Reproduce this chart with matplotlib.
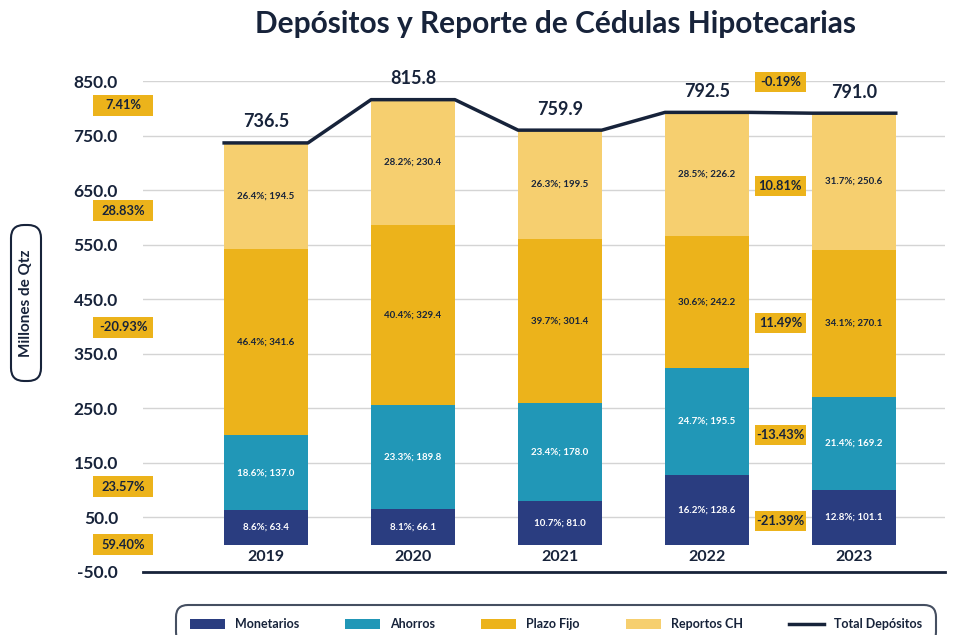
import numpy as np
import matplotlib
matplotlib.use('Agg')
from matplotlib import pyplot as plt
from matplotlib.patches import FancyBboxPatch, Rectangle

plt.rcParams['font.family'] = ['Lato', 'DejaVu Sans']

years = ['2019', '2020', '2021', '2022', '2023']
monetarios = [63.4, 66.1, 81.0, 128.6, 101.1]
ahorros = [137.0, 189.8, 178.0, 195.5, 169.2]
plazo_fijo = [341.6, 329.4, 301.4, 242.2, 270.1]
reportos = [194.5, 230.4, 199.5, 226.2, 250.6]
total = [736.5, 815.8, 759.9, 792.5, 791.0]

pct_mon = [8.6, 8.1, 10.7, 16.2, 12.8]
pct_aho = [18.6, 23.3, 23.4, 24.7, 21.4]
pct_pf = [46.4, 40.4, 39.7, 30.6, 34.1]
pct_rep = [26.4, 28.2, 26.3, 28.5, 31.7]

# variaciones 2019-2023 (izquierda) y 2022-2023 (derecha)
var_19_23 = ['7.41%', '28.83%', '-20.93%', '23.57%', '59.40%']
var_22_23 = ['-0.19%', '10.81%', '11.49%', '-13.43%', '-21.39%']
pos_19_23 = [806, 612, 399, 106, 0]
pos_22_23 = [848, 658, 406, 201, 43]

c_mon = '#2a3d80'
c_aho = '#2197b7'
c_pf = '#ecb31b'
c_rep = '#f6cf6f'
c_dark = '#17233a'

fig = plt.figure(figsize=(9.54, 6.35), dpi=100)
ax = fig.add_axes([143 / 954, 63 / 635, 802 / 954, 491 / 635])

x = np.arange(len(years))
w = 0.57
series = [(monetarios, pct_mon, c_mon, 'Monetarios', 'white'),
          (ahorros, pct_aho, c_aho, 'Ahorros', 'white'),
          (plazo_fijo, pct_pf, c_pf, 'Plazo Fijo', c_dark),
          (reportos, pct_rep, c_rep, 'Reportos CH', c_dark)]
bottom = np.zeros(len(years))
handles = []
for vals, pcts, col, name, tcol in series:
    b = ax.bar(x, vals, w, bottom=bottom, color=col, label=name, zorder=3)
    handles.append(b)
    for xi, v, p, b0 in zip(x, vals, pcts, bottom):
        ax.text(xi, b0 + v / 2, f'{p:.1f}%; {v:.1f}', ha='center', va='center',
                fontsize=7, color=tcol, fontweight='bold', zorder=4)
    bottom += np.array(vals)

# linea del total: plana sobre cada barra
lx = np.ravel(np.column_stack([x - w / 2, x + w / 2]))
ly = np.repeat(total, 2)
ln, = ax.plot(lx, ly, color=c_dark, lw=2.5, zorder=5, label='Total Depósitos')
handles.append(ln)
for xi, t in zip(x, total):
    ax.annotate(f'{t:.1f}', (xi, t), xytext=(0, 9), textcoords='offset points',
                ha='center', va='bottom', fontsize=13, color=c_dark,
                fontweight='bold', annotation_clip=False)

for xi, y in zip(x, years):
    ax.text(xi, -22, y, ha='center', va='center', fontsize=11.5,
            color=c_dark, fontweight='bold')

ax.set_xlim(-0.837, 4.62)
ax.set_ylim(-50, 850)

# cajas amarillas de ancho fijo (medidas en pixeles)
px_x = (4.62 + 0.837) / 802
px_y = 900 / 491


def var_box(xc, yc, txt, wpx, hpx):
    ww, hh = wpx * px_x, hpx * px_y
    ax.add_patch(Rectangle((xc - ww / 2, yc - hh / 2), ww, hh, fc=c_pf, ec='none',
                           zorder=6, clip_on=False))
    ax.text(xc, yc, txt, ha='center', va='center', fontsize=9.3, fontweight='bold',
            color=c_dark, zorder=7, clip_on=False)


for txt, yv in zip(var_19_23, pos_19_23):
    var_box(-0.97, yv, txt, 60, 21)
for txt, yv in zip(var_22_23, pos_22_23):
    var_box(3.5, yv, txt, 51, 20)

ax.set_yticks(np.arange(-50, 851, 100))
ax.set_yticklabels([f'{v:.1f}' for v in np.arange(-50, 851, 100)])
ax.tick_params(axis='y', length=0, pad=18, labelsize=12.5, labelcolor=c_dark)
for lab in ax.get_yticklabels():
    lab.set_fontweight('bold')
ax.set_xticks([])
ax.grid(axis='y', color='#d4d4d4', lw=1, zorder=0)
for s in ['top', 'right', 'left']:
    ax.spines[s].set_visible(False)
ax.spines['bottom'].set_color(c_dark)
ax.spines['bottom'].set_linewidth(2)

fig.text(0.582, 0.962, 'Depósitos y Reporte de Cédulas Hipotecarias', ha='center',
         va='center', fontsize=21.5, fontweight='bold', color=c_dark)

# etiqueta eje y en caja redondeada
fig.add_artist(FancyBboxPatch((0.11, (635 - 381) / 100), 0.30, 1.56,
                              boxstyle='round,pad=0,rounding_size=0.13',
                              transform=fig.dpi_scale_trans, fc='white',
                              ec=c_dark, lw=1.5))
fig.text(26 / 954, 1 - 303 / 635, 'Millones de Qtz', rotation=90, ha='center',
         va='center', fontsize=11, fontweight='bold', color=c_dark)

leg = fig.legend(handles=handles, loc='upper center', ncol=5,
                 bbox_to_anchor=(556 / 954, 1 - 601 / 635), frameon=True,
                 fontsize=9, handlelength=2.8, handleheight=0.8, columnspacing=3.7,
                 borderpad=0.9, fancybox=True, edgecolor=c_dark)
leg.get_frame().set_linewidth(1.5)
leg.get_frame().set_boxstyle('round', pad=0.2, rounding_size=1.0)
for t in leg.get_texts():
    t.set_color(c_dark)
    t.set_fontweight('bold')

fig.savefig('out.png', dpi=100)
